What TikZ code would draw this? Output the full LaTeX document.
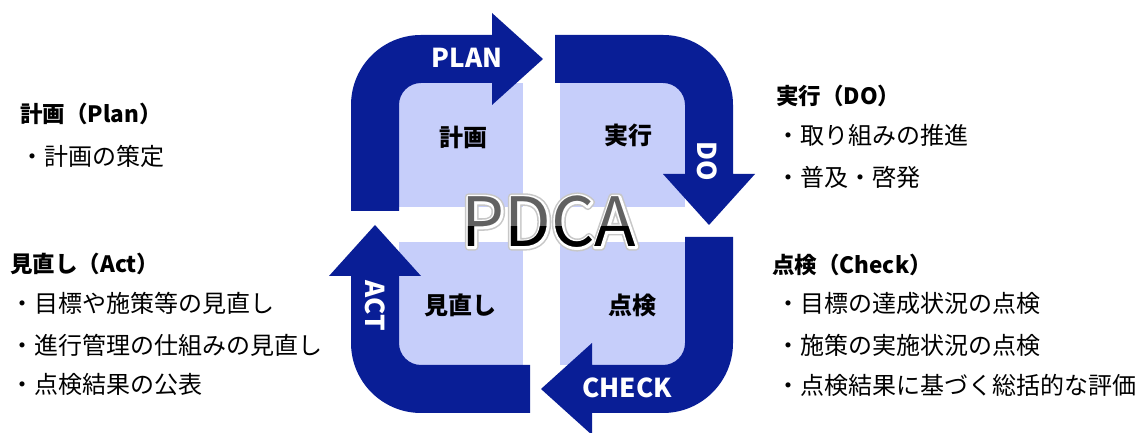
\documentclass[tikz,border=0pt]{standalone}
\usepackage{fontspec}
\setmainfont{Noto Sans CJK JP}
\usepackage{tikz}
\definecolor{pdcanavy}{RGB}{9,30,150}
\definecolor{pdcalight}{RGB}{198,206,250}
\newcommand{\outlinetext}[3]{\special{pdf:literal direct #1 RG #2 w 1 j 1 Tr}#3\special{pdf:literal direct 0 Tr}}

\begin{document}
\begin{tikzpicture}[
    x=1pt, y=1pt,
    quad/.style={fill=pdcalight},
    band/.style={fill=pdcanavy},
    steplabel/.style={text=white, font=\fontsize{26}{26}\selectfont\bfseries, inner sep=0pt},
    quadlabel/.style={text=black, font=\fontsize{24}{24}\selectfont\bfseries, inner sep=0pt},
    heading/.style={anchor=west, inner sep=0pt, font=\fontsize{22.5}{22.5}\selectfont\bfseries},
    item/.style={anchor=west, inner sep=0pt, font=\fontsize{24}{24}\selectfont},
    pdcatext/.style={inner sep=0pt, font=\fontsize{68}{68}\selectfont}
]
\useasboundingbox (0,0) rectangle (1141,433);

% Quadrants
\fill[quad] (399,226) rectangle (523,350);
\fill[quad] (560,226) rectangle (685,350);
\fill[quad] (399,68) rectangle (523,191);
\fill[quad] (560,68) rectangle (685,191);

% Arrows
\fill[band] (351,222) -- (351,328) arc[start angle=180, end angle=90, radius=70pt]
  -- (492,398) -- (492,420) -- (543,374) -- (492,328) -- (492,350) -- (421,350)
  arc[start angle=90, end angle=180, radius=22pt] -- (399,222) -- cycle;
\fill[band] (555,398) -- (663,398) arc[start angle=90, end angle=0, radius=70pt]
  -- (733,259) -- (755,259) -- (709,208) -- (663,259) -- (685,259) -- (685,328)
  arc[start angle=0, end angle=90, radius=22pt] -- (555,350) -- cycle;
\fill[band] (733,196) -- (733,90) arc[start angle=0, end angle=-90, radius=70pt]
  -- (592,20) -- (592,-2) -- (541,44) -- (592,90) -- (592,68) -- (663,68)
  arc[start angle=-90, end angle=0, radius=22pt] -- (685,196) -- cycle;
\fill[band] (530,68) -- (421,68) arc[start angle=270, end angle=180, radius=22pt]
  -- (399,157) -- (421,157) -- (375,208) -- (329,157) -- (351,157) -- (351,90)
  arc[start angle=180, end angle=270, radius=70pt] -- (530,20) -- cycle;

% Arrow labels
\node[steplabel] (plan) at (467,375) {PLAN};
\node[steplabel, rotate=-90] (do) at (707,272) {DO};
\node[steplabel] (check) at (627,45) {CHECK};
\node[steplabel, rotate=-90] (act) at (375,127) {ACT};

% Quadrant labels
\node[quadlabel] (keikaku) at (463,296) {計画};
\node[quadlabel] (jikko) at (628,298) {実行};
\node[quadlabel] (minaoshi) at (460,128) {見直し};
\node[quadlabel] (tenken) at (632,128) {点検};

% PDCA: shadow, white rim, then the letters
\node[pdcatext] (pdcashadow) at (549,211) {\outlinetext{0.78 0.78 0.78}{7.5}{PDCA}};
\node[pdcatext] (pdcarim) at (549,211) {\outlinetext{1 1 1}{4.4}{PDCA}};
\node[pdcatext, text=black!62] (pdca) at (549,211) {PDCA};
\begin{scope}
  \clip (440,160) rectangle (660,206);
  \node[pdcatext, text=black] (pdcalow) at (549,211) {PDCA};
\end{scope}

% Left texts
\node[heading] (hplan) at (20,319) {計画（Plan）};
\node[item] (p1) at (20,277) {・計画の策定};
\node[heading] (hact) at (10,169) {見直し（Act）};
\node[item] (a1) at (10,130) {・目標や施策等の見直し};
\node[item] (a2) at (10,88) {・進行管理の仕組みの見直し};
\node[item] (a3) at (10,49) {・点検結果の公表};

% Right texts
\node[heading] (hdo) at (776,337) {実行（DO）};
\node[item] (d1) at (776,298) {・取り組みの推進};
\node[item] (d2) at (776,256) {・普及・啓発};
\node[heading] (hcheck) at (772,168) {点検（Check）};
\node[item] (c1) at (776,130) {・目標の達成状況の点検};
\node[item] (c2) at (776,88) {・施策の実施状況の点検};
\node[item] (c3) at (776,48) {・点検結果に基づく総括的な評価};
\end{tikzpicture}
\end{document}
